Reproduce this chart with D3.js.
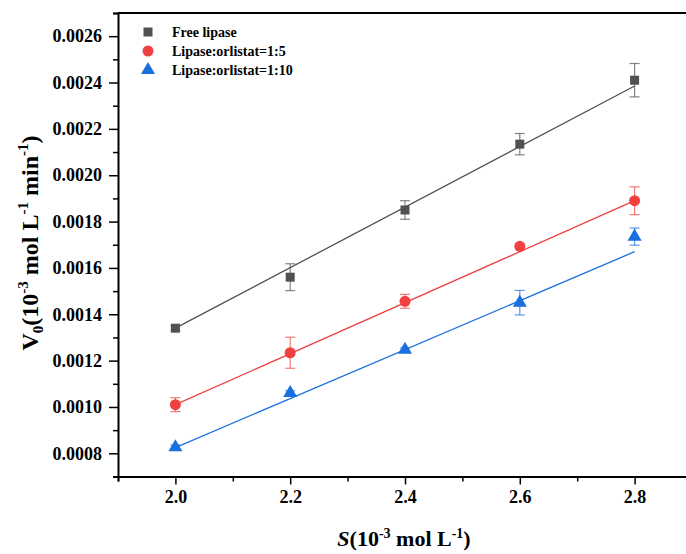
<!DOCTYPE html>
<html>
<head>
<meta charset="utf-8">
<script src="https://cdn.jsdelivr.net/npm/d3@7"></script>
<style>
  body { margin: 0; background: #fff; }
  svg text { font-family: "Liberation Serif", "Times New Roman", serif; font-weight: bold; }
</style>
</head>
<body>
<svg id="chart" width="686" height="554"></svg>
<script>
// Données
const substrate = [2.0, 2.2, 2.4, 2.6, 2.8];
const seriesNames = ["Free lipase", "Lipase:orlistat=1:5", "Lipase:orlistat=1:10"];
const freeLipase = [0.00134, 0.00156, 0.00185, 0.002134, 0.00241];
const freeLipaseErr = [0.00001, 0.000058, 0.00004, 0.000046, 0.000072];
const ratio5 = [0.00101, 0.001234, 0.001456, 0.001693, 0.00189];
const ratio5Err = [0.00003, 0.000067, 0.00003, 0.00001, 0.00006];
const ratio10 = [0.000826, 0.00106, 0.001247, 0.00145, 0.001735];
const ratio10Err = [0.00001, 0.00001, 0.000008, 0.000053, 0.000037];
// droites d'ajustement (valeurs en S = 2.0 et S = 2.8)
const fitStart = [0.00134, 0.00101, 0.000825];
const fitEnd = [0.002385, 0.00189, 0.00167];
const yMajorTicks = [0.0008, 0.001, 0.0012, 0.0014, 0.0016, 0.0018, 0.002, 0.0022, 0.0024, 0.0026];
const yMinorTicks = [0.0007, 0.0009, 0.0011, 0.0013, 0.0015, 0.0017, 0.0019, 0.0021, 0.0023, 0.0025, 0.0027];
const xMajorTicks = [2.0, 2.2, 2.4, 2.6, 2.8];
const xMinorTicks = [1.9, 2.1, 2.3, 2.5, 2.7, 2.9];

const colors = ["#515151", "#F14040", "#1A6FDF"];
const symbols = [d3.symbolSquare, d3.symbolCircle, d3.symbolTriangle];
const symbolSizes = [81, 95, 85];

const svg = d3.select("#chart");
const margin = { left: 118, top: 13, bottom: 476.5 };

const x = d3.scaleLinear().domain([1.9, 2.9]).range([margin.left, 692]);
const y = d3.scaleLinear().domain([0.0007, 0.0027]).range([margin.bottom, margin.top]);

// Axes
const styleAxis = (g) => {
  g.select(".domain").attr("stroke", "#000").attr("stroke-width", 2);
  g.selectAll(".tick line").attr("stroke", "#000").attr("stroke-width", 1.5);
  g.selectAll(".tick text").attr("fill", "#000").attr("font-size", 18)
    .attr("font-family", "'Liberation Serif', 'Times New Roman', serif").attr("font-weight", "bold");
};

svg.append("g")
  .attr("transform", `translate(${margin.left},0)`)
  .call(d3.axisLeft(y).tickValues(yMinorTicks).tickSize(5).tickFormat(""))
  .call(styleAxis);

svg.append("g")
  .attr("transform", `translate(${margin.left},0)`)
  .call(d3.axisLeft(y).tickValues(yMajorTicks).tickSize(9).tickPadding(7).tickFormat(d3.format(".4f")))
  .call(styleAxis)
  .call((g) => g.select(".domain").remove());

svg.append("g")
  .attr("transform", `translate(0,${margin.bottom})`)
  .call(d3.axisBottom(x).tickValues(xMinorTicks).tickSize(5).tickFormat(""))
  .call(styleAxis);

svg.append("g")
  .attr("transform", `translate(0,${margin.bottom})`)
  .call(d3.axisBottom(x).tickValues(xMajorTicks).tickSize(8).tickPadding(6).tickFormat(d3.format(".1f")))
  .call(styleAxis)
  .call((g) => g.select(".domain").remove());

// Bordure du haut
svg.append("line")
  .attr("x1", margin.left).attr("x2", 692)
  .attr("y1", margin.top).attr("y2", margin.top)
  .attr("stroke", "#000").attr("stroke-width", 2);

// Séries
const allValues = [freeLipase, ratio5, ratio10];
const allErrors = [freeLipaseErr, ratio5Err, ratio10Err];

allValues.forEach((values, i) => {
  const color = colors[i];
  const g = svg.append("g");

  // droite d'ajustement
  g.append("line")
    .attr("x1", x(substrate[0])).attr("y1", y(fitStart[i]))
    .attr("x2", x(substrate[substrate.length - 1])).attr("y2", y(fitEnd[i]))
    .attr("stroke", color).attr("stroke-width", 1.3);

  // barres d'erreur
  values.forEach((v, j) => {
    const err = allErrors[i][j];
    const cx = x(substrate[j]);
    const eg = g.append("g").attr("stroke", color).attr("stroke-opacity", 0.7).attr("stroke-width", 1.2);
    eg.append("line").attr("x1", cx).attr("x2", cx).attr("y1", y(v - err)).attr("y2", y(v + err));
    eg.append("line").attr("x1", cx - 5).attr("x2", cx + 5).attr("y1", y(v - err)).attr("y2", y(v - err));
    eg.append("line").attr("x1", cx - 5).attr("x2", cx + 5).attr("y1", y(v + err)).attr("y2", y(v + err));
  });

  // symboles
  g.selectAll("path.pt")
    .data(values)
    .join("path")
    .attr("class", "pt")
    .attr("d", d3.symbol().type(symbols[i]).size(symbolSizes[i]))
    .attr("transform", (d, j) => `translate(${x(substrate[j])},${y(d)})`)
    .attr("fill", color);
});

// Légende
const legend = svg.append("g");
seriesNames.forEach((name, i) => {
  const ly = 32 + i * 19;
  legend.append("path")
    .attr("d", d3.symbol().type(symbols[i]).size(symbolSizes[i]))
    .attr("transform", `translate(148,${ly})`)
    .attr("fill", colors[i]);
  legend.append("text")
    .attr("x", 172).attr("y", ly + 5)
    .attr("font-size", 14)
    .text(name);
});

// Titre de l'axe X
const xt = svg.append("text")
  .attr("x", 404).attr("y", 546)
  .attr("text-anchor", "middle")
  .attr("font-size", 22);
xt.append("tspan").attr("font-style", "italic").text("S");
xt.append("tspan").text("(10");
xt.append("tspan").attr("dy", -8).attr("font-size", 14).text("-3");
xt.append("tspan").attr("dy", 8).text(" mol L");
xt.append("tspan").attr("dy", -8).attr("font-size", 14).text("-1");
xt.append("tspan").attr("dy", 8).text(")");

// Titre de l'axe Y
const yt = svg.append("text")
  .attr("transform", "translate(38,243) rotate(-90)")
  .attr("text-anchor", "middle")
  .attr("font-size", 24);
yt.append("tspan").text("V");
yt.append("tspan").attr("dy", 5).attr("font-size", 15).text("0");
yt.append("tspan").attr("dy", -5).text("(10");
yt.append("tspan").attr("dy", -10).attr("font-size", 15).text("-3");
yt.append("tspan").attr("dy", 10).text(" mol L");
yt.append("tspan").attr("dy", -10).attr("font-size", 15).text("-1");
yt.append("tspan").attr("dy", 10).text(" min");
yt.append("tspan").attr("dy", -10).attr("font-size", 15).text("-1");
yt.append("tspan").attr("dy", 10).text(")");
</script>
</body>
</html>
